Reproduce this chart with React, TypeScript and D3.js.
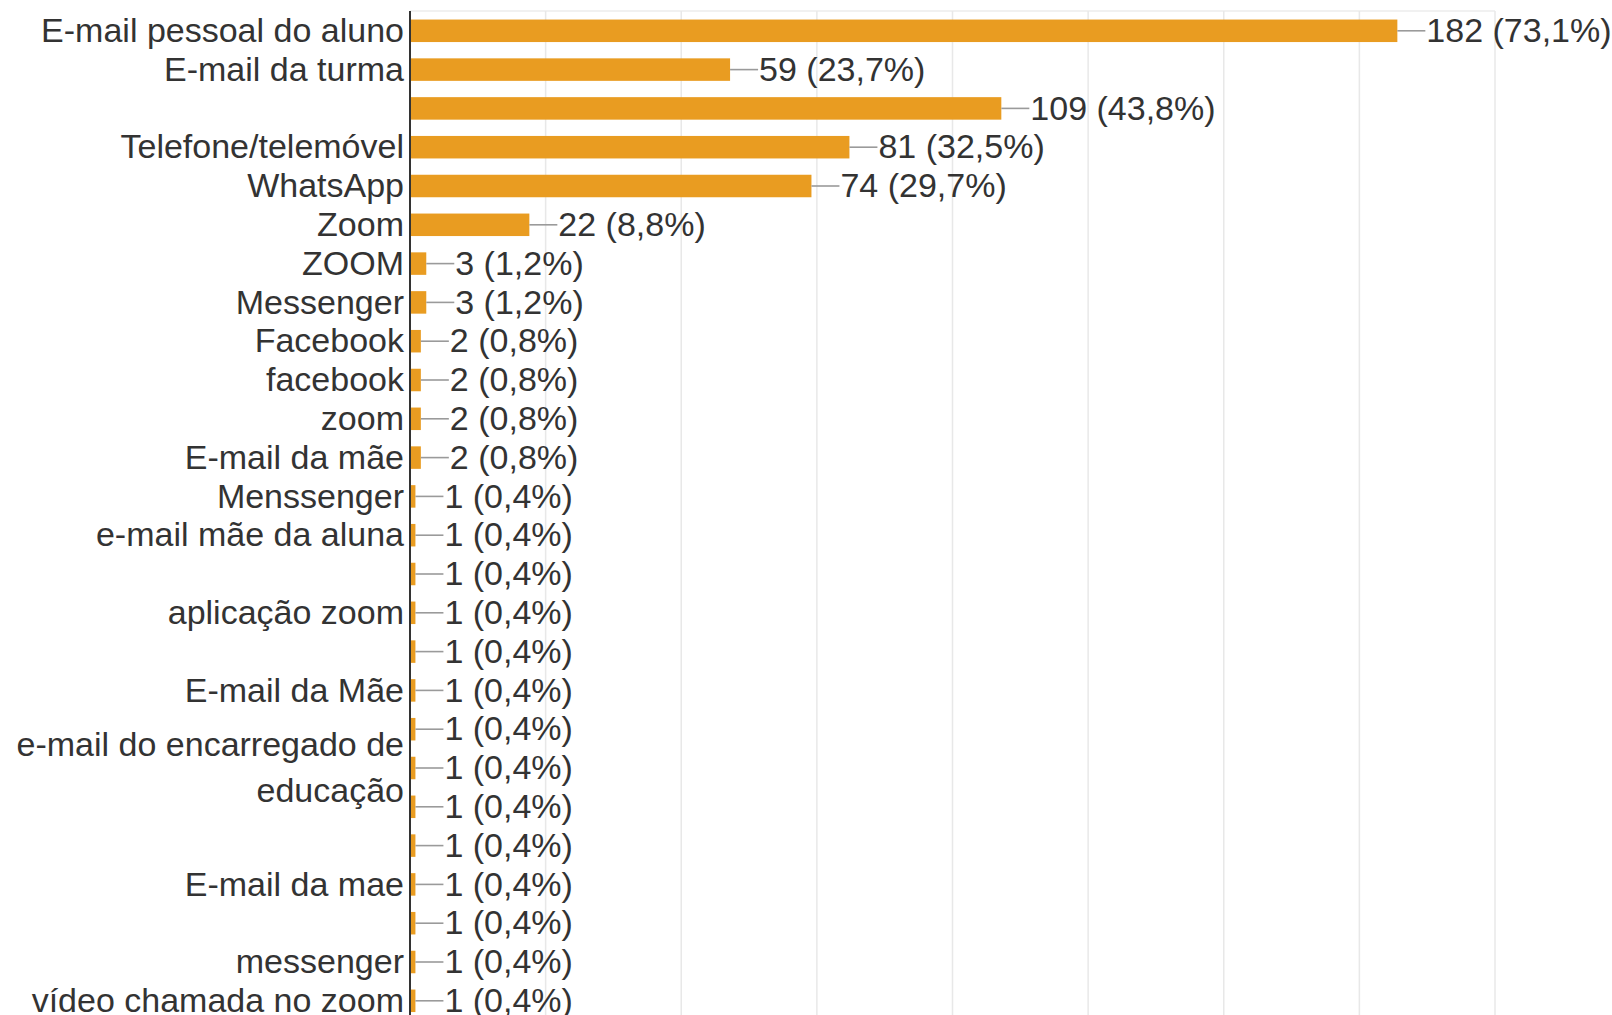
import React from "react";
import * as d3 from "d3";

const categories: string[] = [
  "E-mail pessoal do aluno",
  "E-mail da turma",
  "",
  "Telefone/telemóvel",
  "WhatsApp",
  "Zoom",
  "ZOOM",
  "Messenger",
  "Facebook",
  "facebook",
  "zoom",
  "E-mail da mãe",
  "Menssenger",
  "e-mail mãe da aluna",
  "",
  "aplicação zoom",
  "",
  "E-mail da Mãe",
  "",
  "e-mail do encarregado de\neducação",
  "",
  "",
  "E-mail da mae",
  "",
  "messenger",
  "vídeo chamada no zoom",
];

const counts: number[] = [182, 59, 109, 81, 74, 22, 3, 3, 2, 2, 2, 2, 1, 1, 1, 1, 1, 1, 1, 1, 1, 1, 1, 1, 1, 1];
const percents: string[] = [
  "73,1%", "23,7%", "43,8%", "32,5%", "29,7%", "8,8%", "1,2%", "1,2%", "0,8%", "0,8%", "0,8%", "0,8%",
  "0,4%", "0,4%", "0,4%", "0,4%", "0,4%", "0,4%", "0,4%", "0,4%", "0,4%", "0,4%", "0,4%", "0,4%", "0,4%", "0,4%",
];
const xTicks: number[] = [0, 25, 50, 75, 100, 125, 150, 175, 200];

const W = 1612;
const H = 1015;
const left = 410;
const right = 1495;
const top = 11;
const rowStep = 38.8;
const firstCenter = 30.8;

export default function App() {
  const x = d3.scaleLinear().domain([0, 200]).range([left, right]);
  const idx = categories.map((_, i) => String(i));
  const y = d3
    .scaleBand<string>()
    .domain(idx)
    .range([firstCenter - rowStep / 2, firstCenter - rowStep / 2 + rowStep * categories.length])
    .paddingInner(0.42)
    .paddingOuter(0.21);
  const font = "Arial, 'Liberation Sans', sans-serif";
  const fs = 34;
  const textColor = "#333333";
  const barColor = "#e99c21";

  return (
    <div style={{ position: "fixed", left: 0, top: 0, width: W, height: H, background: "#fff" }}>
      <svg width={W} height={H} style={{ display: "block" }}>
        <rect x={0} y={0} width={W} height={H} fill="#ffffff" />
        <line x1={left} x2={right} y1={top} y2={top} stroke="#ececec" strokeWidth={1.5} />
        {xTicks.slice(1).map((t) => (
          <line key={t} x1={x(t)} x2={x(t)} y1={top} y2={H} stroke="#e8e8e8" strokeWidth={1.5} />
        ))}
        {categories.map((c, i) => {
          const yc = (y(String(i)) as number) + y.bandwidth() / 2;
          const xe = x(counts[i]);
          const lines = c.split("\n");
          const lh = 46;
          return (
            <g key={i}>
              <rect x={left} y={y(String(i))} width={xe - left} height={y.bandwidth()} fill={barColor} />
              <line x1={xe} x2={xe + 28} y1={yc} y2={yc} stroke="#9a9a9a" strokeWidth={1.6} />
              <text
                x={xe + 29}
                y={yc - 1}
                dy="0.36em"
                fontFamily={font}
                fontSize={fs}
                fill={textColor}
              >
                {`${counts[i]} (${percents[i]})`}
              </text>
              {lines.map((ln, j) => (
                <text
                  key={j}
                  x={404}
                  y={yc - 1 + (j - (lines.length - 1) / 2) * lh}
                  dy="0.36em"
                  textAnchor="end"
                  fontFamily={font}
                  fontSize={fs}
                  fill={textColor}
                >
                  {ln}
                </text>
              ))}
            </g>
          );
        })}
        <line x1={left} x2={left} y1={top} y2={H} stroke="#333333" strokeWidth={2} />
      </svg>
    </div>
  );
}
